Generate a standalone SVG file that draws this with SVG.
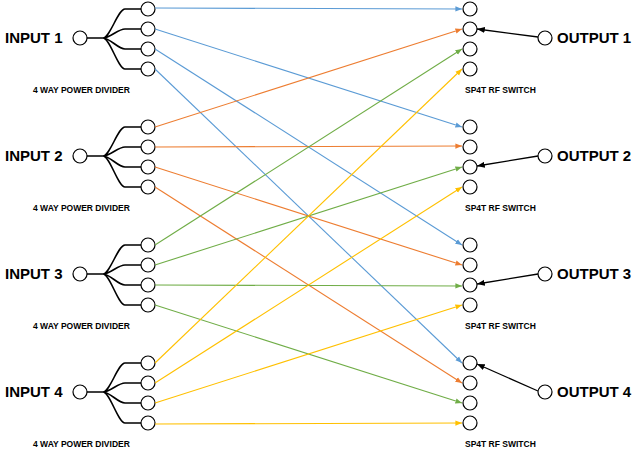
<svg xmlns="http://www.w3.org/2000/svg" width="640" height="460" viewBox="0 0 640 460">
<style>
.c{fill:#fff;stroke:#000;stroke-width:1.2}
.w{fill:none;stroke:#000;stroke-width:1.6}
.big{font-family:"Liberation Sans",Arial,sans-serif;font-weight:bold;font-size:15px}
.sm{font-family:"Liberation Sans",Arial,sans-serif;font-weight:bold;font-size:8.5px}
.b{stroke:#5b9bd5;marker-end:url(#ab)}.o{stroke:#ed7d31;marker-end:url(#ao)}.g{stroke:#70ad47;marker-end:url(#ag)}.y{stroke:#ffc000;marker-end:url(#ay)}
.k{stroke:#000;stroke-width:1.3;marker-end:url(#ak)}
</style>
<defs>
<marker id="ab" viewBox="0 0 10 10" refX="10" refY="5" markerWidth="6" markerHeight="6" orient="auto"><path d="M0 1L10 5L0 9z" fill="#5b9bd5"/></marker>
<marker id="ao" viewBox="0 0 10 10" refX="10" refY="5" markerWidth="6" markerHeight="6" orient="auto"><path d="M0 1L10 5L0 9z" fill="#ed7d31"/></marker>
<marker id="ag" viewBox="0 0 10 10" refX="10" refY="5" markerWidth="6" markerHeight="6" orient="auto"><path d="M0 1L10 5L0 9z" fill="#70ad47"/></marker>
<marker id="ay" viewBox="0 0 10 10" refX="10" refY="5" markerWidth="6" markerHeight="6" orient="auto"><path d="M0 1L10 5L0 9z" fill="#ffc000"/></marker>
<marker id="ak" viewBox="0 0 10 10" refX="10" refY="5" markerWidth="6" markerHeight="6" orient="auto"><path d="M0 1L10 5L0 9z" fill="#000"/></marker>
<g id="div">
<path class="w" d="M87 38H103M103 38C110 38 118 9 125 9H141M103 38C110 38 118 29 125 29H141M103 38C110 38 118 49 125 49H141M103 38C110 38 118 69 125 69H141"/>
<circle class="c" cx="80" cy="38" r="7"/>
<circle class="c" cx="148" cy="9" r="7"/><circle class="c" cx="148" cy="29" r="7"/><circle class="c" cx="148" cy="49" r="7"/><circle class="c" cx="148" cy="69" r="7"/>
</g>
<g id="sw">
<circle class="c" cx="470" cy="9" r="7"/><circle class="c" cx="470" cy="29" r="7"/><circle class="c" cx="470" cy="49" r="7"/><circle class="c" cx="470" cy="69" r="7"/>
</g>
</defs>
<g id="input1"><use href="#div"/><text class="big" x="5" y="43">INPUT 1</text><text class="sm" x="33" y="93">4 WAY POWER DIVIDER</text></g>
<g id="input2" transform="translate(0,118)"><use href="#div"/><text class="big" x="5" y="43">INPUT 2</text><text class="sm" x="33" y="93">4 WAY POWER DIVIDER</text></g>
<g id="input3" transform="translate(0,236)"><use href="#div"/><text class="big" x="5" y="43">INPUT 3</text><text class="sm" x="33" y="93">4 WAY POWER DIVIDER</text></g>
<g id="input4" transform="translate(0,354)"><use href="#div"/><text class="big" x="5" y="43">INPUT 4</text><text class="sm" x="33" y="93">4 WAY POWER DIVIDER</text></g>
<g id="switch1"><use href="#sw"/><text class="sm" x="465" y="93">SP4T RF SWITCH</text></g>
<g id="switch2" transform="translate(0,118)"><use href="#sw"/><text class="sm" x="465" y="93">SP4T RF SWITCH</text></g>
<g id="switch3" transform="translate(0,236)"><use href="#sw"/><text class="sm" x="465" y="93">SP4T RF SWITCH</text></g>
<g id="switch4" transform="translate(0,354)"><use href="#sw"/><text class="sm" x="465" y="93">SP4T RF SWITCH</text></g>
<g id="output1"><circle class="c" cx="545" cy="38" r="7"/><text class="big" x="557" y="43">OUTPUT 1</text></g>
<g id="output2"><circle class="c" cx="545" cy="156" r="7"/><text class="big" x="557" y="161">OUTPUT 2</text></g>
<g id="output3"><circle class="c" cx="545" cy="274" r="7"/><text class="big" x="557" y="279">OUTPUT 3</text></g>
<g id="output4"><circle class="c" cx="545" cy="392" r="7"/><text class="big" x="557" y="397">OUTPUT 4</text></g>
<g id="connectors" fill="none" stroke-width="1.1">
<path class="b" d="M155 8L462 9"/><path class="b" d="M155 29L462 127"/><path class="b" d="M155 49L462 245"/><path class="b" d="M155 69L462 363"/>
<path class="o" d="M155 127L462 29"/><path class="o" d="M155 147L462 146"/><path class="o" d="M155 167L462 265"/><path class="o" d="M155 187L462 383"/>
<path class="g" d="M155 245L462 49"/><path class="g" d="M155 265L462 167"/><path class="g" d="M155 285L462 286"/><path class="g" d="M155 305L462 403"/>
<path class="y" d="M155 363L462 69"/><path class="y" d="M155 383L462 187"/><path class="y" d="M155 403L462 305"/><path class="y" d="M155 424L462 423"/>
<path class="k" d="M538 37L477 29"/><path class="k" d="M538 156L477 166"/><path class="k" d="M538 274L477 284"/><path class="k" d="M538 391L477 364"/>
</g>
</svg>
